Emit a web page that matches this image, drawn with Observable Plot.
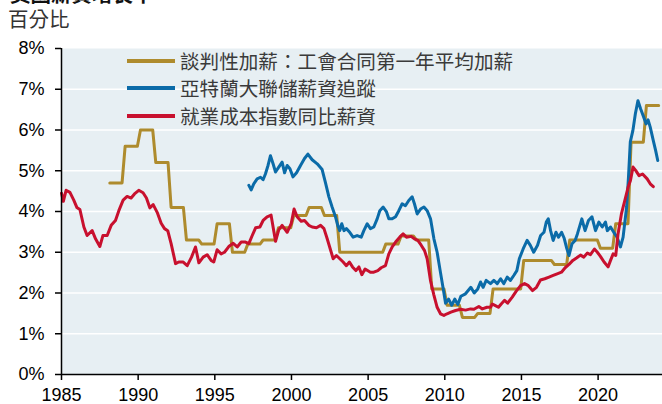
<!DOCTYPE html>
<html>
<head>
<meta charset="utf-8">
<script src="https://cdn.jsdelivr.net/npm/d3@7"></script>
<script src="https://cdn.jsdelivr.net/npm/@observablehq/plot@0.6"></script>
<style>
  html, body { margin: 0; padding: 0; background: #fff; }
  #wrap { position: relative; width: 662px; height: 404px; overflow: hidden; font-family: "Noto Sans CJK TC", "Liberation Sans", sans-serif; }
  #chart { position: absolute; left: 0; top: 0; }
  .title-clip { position: absolute; left: 10px; top: 0; height: 4px; width: 200px; overflow: hidden; }
  .title-clip span { position: absolute; top: -17px; left: 0; font-size: 20.5px; line-height: 20.5px; font-weight: bold; color: #111; white-space: nowrap; }
  .unit { position: absolute; left: 8px; top: 8px; font-size: 20.5px; line-height: 20.5px; height: 20.5px; color: #333; }
  .legend { position: absolute; left: 127px; top: 47px; }
  .row { position: relative; height: 27.6px; display: flex; align-items: center; }
  .sw { width: 48px; height: 4px; margin-right: 5px; }
  .lab { font-size: 19.6px; line-height: 20px; color: #3a3a3a; white-space: nowrap; }
</style>
</head>
<body>
<div id="wrap">
  <div id="chart"></div>
  <div class="title-clip"><span>美國薪資增長率</span></div>
  <div class="unit">百分比</div>
  <div class="legend" id="legend"></div>
</div>
<script>
// ---- data ----
const seriesNames = ["談判性加薪：工會合同第一年平均加薪", "亞特蘭大聯儲薪資追蹤", "就業成本指數同比薪資"];
const seriesColors = ["#ae8b2d", "#0b6ba8", "#c8102e"];

const xTicks = [1985, 1990, 1995, 2000, 2005, 2010, 2015, 2020];
const yTicks = [0, 1, 2, 3, 4, 5, 6, 7, 8];

// Negotiated wage increases (annual values)
const goldYears = [1988,1989,1990,1991,1992,1993,1994,1995,1996,1997,1998,1999,2000,2001,2002,2003,2004,2005,2006,2007,2008,2009,2010,2011,2012,2013,2014,2015,2016,2017,2018,2019,2020,2021,2022,2023];
const goldValues = [4.7,5.6,6.0,5.2,4.1,3.3,3.2,3.7,3.0,3.2,3.3,3.6,3.9,4.1,3.9,3.0,3.0,3.0,3.2,3.4,3.3,2.1,1.7,1.4,1.5,2.1,2.1,2.8,2.8,2.7,3.3,3.3,3.1,3.7,5.7,6.6];

// Atlanta Fed wage growth tracker
const blueDates = [1997.22,1997.37,1997.54,1997.76,1997.98,1998.15,1998.30,1998.47,1998.63,1998.80,1998.96,1999.17,1999.39,1999.55,1999.72,1999.90,2000.10,2000.33,2000.59,2000.85,2001.07,2001.35,2001.68,2002.00,2002.22,2002.44,2002.65,2002.87,2003.02,2003.15,2003.28,2003.43,2003.58,2003.80,2004.02,2004.28,2004.55,2004.72,2004.94,2005.15,2005.37,2005.59,2005.76,2005.98,2006.20,2006.35,2006.57,2006.79,2007.00,2007.22,2007.43,2007.65,2007.87,2008.02,2008.20,2008.42,2008.64,2008.85,2009.07,2009.29,2009.50,2009.72,2009.90,2010.05,2010.25,2010.45,2010.65,2010.85,2011.05,2011.35,2011.70,2011.92,2012.15,2012.33,2012.50,2012.70,2012.98,2013.20,2013.42,2013.64,2013.85,2014.07,2014.28,2014.50,2014.70,2014.86,2015.11,2015.37,2015.58,2015.80,2016.05,2016.25,2016.47,2016.62,2016.75,2016.90,2017.07,2017.25,2017.42,2017.62,2017.78,2017.95,2018.10,2018.30,2018.50,2018.65,2018.94,2019.15,2019.37,2019.60,2019.83,2020.05,2020.27,2020.48,2020.60,2020.81,2021.02,2021.24,2021.46,2021.63,2021.86,2021.98,2022.10,2022.27,2022.43,2022.60,2022.77,2022.98,2023.13,2023.26,2023.40,2023.60,2023.75,2023.89];
const blueValues = [4.64,4.53,4.68,4.80,4.84,4.78,4.92,5.13,5.37,5.17,4.97,5.09,5.21,4.95,5.13,5.05,4.85,4.95,5.13,5.30,5.41,5.27,5.17,5.03,4.70,4.36,4.11,3.87,3.66,3.53,3.70,3.53,3.58,3.49,3.37,3.41,3.37,3.53,3.70,3.58,3.62,3.82,4.02,4.11,3.99,3.82,3.82,3.87,4.02,4.19,4.14,4.27,4.36,4.19,3.94,4.06,4.11,4.02,3.82,3.33,3.00,2.50,2.10,1.75,1.85,1.70,1.85,1.72,1.92,1.98,2.14,2.00,2.10,2.27,2.14,2.31,2.23,2.31,2.23,2.35,2.23,2.39,2.31,2.43,2.55,2.84,3.08,3.29,3.17,3.00,3.17,3.41,3.49,3.74,3.82,3.53,3.29,3.49,3.37,3.49,3.35,3.10,2.92,3.21,3.29,3.45,3.82,3.53,3.78,3.87,3.53,3.74,3.62,3.74,3.53,3.62,3.49,3.37,3.13,3.37,4.11,4.84,5.71,5.99,6.40,6.72,6.52,6.31,6.15,6.25,6.07,5.74,5.50,5.25];

// Employment cost index, wages, y/y
const redDates = [1985.00,1985.12,1985.30,1985.55,1985.80,1986.00,1986.20,1986.46,1986.67,1987.00,1987.22,1987.50,1987.70,1987.98,1988.24,1988.52,1988.74,1989.02,1989.28,1989.54,1989.76,1990.04,1990.32,1990.54,1990.76,1990.98,1991.24,1991.50,1991.72,1991.93,1992.15,1992.44,1992.65,1992.94,1993.20,1993.48,1993.74,1993.96,1994.24,1994.50,1994.76,1994.93,1995.15,1995.41,1995.63,1995.91,1996.20,1996.46,1996.72,1997.00,1997.22,1997.44,1997.66,1997.94,1998.15,1998.41,1998.67,1998.96,1999.17,1999.39,1999.72,1999.98,2000.17,2000.37,2000.63,2000.85,2001.13,2001.35,2001.63,2001.90,2002.12,2002.33,2002.53,2002.72,2002.93,2003.15,2003.37,2003.58,2003.78,2003.98,2004.20,2004.40,2004.59,2004.80,2005.15,2005.37,2005.63,2005.85,2006.13,2006.35,2006.57,2006.79,2007.06,2007.28,2007.50,2007.80,2008.02,2008.24,2008.45,2008.68,2008.85,2009.07,2009.29,2009.50,2009.72,2009.94,2010.15,2010.40,2010.70,2011.03,2011.35,2011.68,2011.90,2012.22,2012.45,2012.75,2012.98,2013.10,2013.30,2013.50,2013.68,2013.90,2014.10,2014.40,2014.65,2014.94,2015.20,2015.45,2015.72,2015.98,2016.24,2016.52,2016.80,2017.07,2017.33,2017.61,2017.85,2018.10,2018.35,2018.59,2018.85,2019.07,2019.30,2019.50,2019.76,2019.95,2020.15,2020.39,2020.65,2020.81,2020.98,2021.15,2021.30,2021.52,2021.74,2021.96,2022.11,2022.28,2022.45,2022.67,2022.90,2023.20,2023.40,2023.60];
const redValues = [4.45,4.25,4.52,4.47,4.28,4.10,4.05,3.62,3.41,3.53,3.33,3.14,3.41,3.41,3.66,3.78,4.02,4.28,4.37,4.33,4.43,4.52,4.46,4.33,4.09,4.17,3.98,3.71,3.58,3.53,3.21,2.72,2.76,2.76,2.67,2.88,3.13,2.74,2.88,2.94,2.80,2.76,3.06,2.96,3.00,3.14,3.22,3.13,3.25,3.25,3.21,3.41,3.60,3.62,3.78,3.87,3.91,3.27,3.55,3.66,3.49,3.70,4.06,3.87,3.76,3.78,3.66,3.62,3.60,3.66,3.58,3.33,3.08,2.84,2.92,2.84,2.76,2.67,2.76,2.64,2.55,2.64,2.45,2.59,2.51,2.51,2.55,2.62,2.67,2.96,3.13,3.25,3.37,3.45,3.37,3.39,3.33,3.29,3.18,3.04,2.84,2.30,1.95,1.65,1.49,1.45,1.49,1.53,1.57,1.60,1.58,1.61,1.60,1.67,1.61,1.65,1.65,1.73,1.69,1.65,1.73,1.82,1.75,1.90,2.04,2.18,2.23,2.18,2.06,2.14,2.32,2.35,2.39,2.43,2.47,2.51,2.62,2.70,2.80,2.86,2.93,2.88,2.98,2.94,3.08,3.00,2.90,2.76,2.64,2.80,2.96,2.92,3.45,3.94,4.27,4.60,4.76,5.09,5.01,4.88,4.92,4.80,4.68,4.61];

// ---- build tables ----
const gold = goldYears.flatMap((yr, i) => [
  {date: yr + 0.15, value: goldValues[i]},
  {date: yr + 0.95, value: goldValues[i]}
]);
const blue = blueDates.map((d, i) => ({date: d, value: blueValues[i]}));
const red = redDates.map((d, i) => ({date: d, value: redValues[i]}));

const xDomain = [1985, 2024.2];
const yDomain = [0, 8];
const bg = "#e7eff3";

const chart = Plot.plot({
  width: 662,
  height: 404,
  marginLeft: 61,
  marginRight: 0,
  marginTop: 48,
  marginBottom: 30,
  style: {fontFamily: "'Liberation Sans', Arial, sans-serif", fontSize: "18px", color: "#000", background: "transparent", overflow: "visible"},
  x: {domain: xDomain},
  y: {domain: yDomain},
  marks: [
    Plot.frame({fill: bg, stroke: "none"}),
    Plot.ruleY(yTicks.filter(t => t > yDomain[0] && t < yDomain[1]), {stroke: "#ffffff", strokeWidth: 1.6}),
    Plot.line(gold, {x: "date", y: "value", stroke: seriesColors[0], strokeWidth: 3, curve: "linear"}),
    Plot.line(blue, {x: "date", y: "value", stroke: seriesColors[1], strokeWidth: 3}),
    Plot.line(red, {x: "date", y: "value", stroke: seriesColors[2], strokeWidth: 3}),
    Plot.ruleX([xDomain[0]], {stroke: "#000", strokeWidth: 1.5}),
    Plot.ruleY([yDomain[0]], {stroke: "#000", strokeWidth: 1.5}),
    Plot.axisY({ticks: yTicks, tickFormat: d => d + "%", tickSize: 6, tickPadding: 11, strokeWidth: 1.5, fontSize: 18, label: null}),
    Plot.axisX({ticks: xTicks, tickFormat: d => String(d), tickSize: 6, tickPadding: 8, strokeWidth: 1.5, fontSize: 18, label: null})
  ]
});
document.getElementById("chart").appendChild(chart);

// legend
const legend = document.getElementById("legend");
seriesNames.forEach((name, i) => {
  const row = document.createElement("div");
  row.className = "row";
  const sw = document.createElement("div");
  sw.className = "sw";
  sw.style.background = seriesColors[i];
  const lab = document.createElement("div");
  lab.className = "lab";
  lab.textContent = name;
  row.appendChild(sw);
  row.appendChild(lab);
  legend.appendChild(row);
});
</script>
</body>
</html>
